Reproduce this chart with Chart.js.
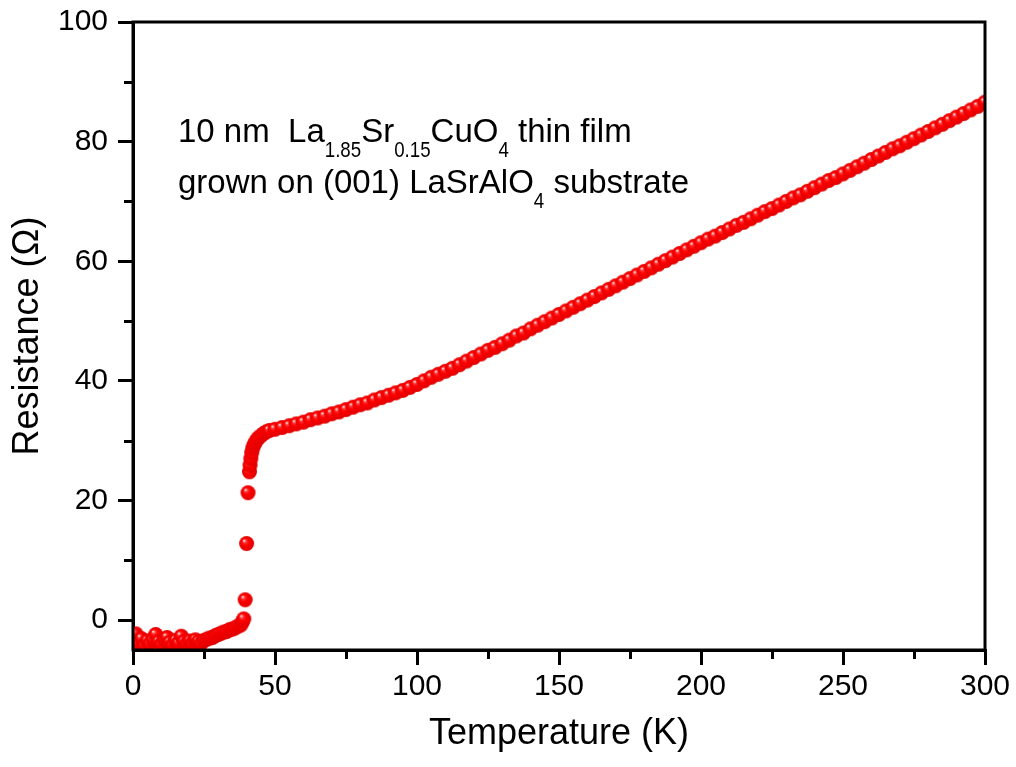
<!DOCTYPE html>
<html>
<head>
<meta charset="utf-8">
<script src="https://cdn.jsdelivr.net/npm/chart.js@4.4.0/dist/chart.umd.min.js"></script>
<style>
  html, body { margin: 0; padding: 0; background: #fff; }
  #wrap { width: 1016px; height: 767px; }
</style>
</head>
<body>
<div id="wrap"><canvas id="chart" width="1016" height="767"></canvas></div>
<script>
// temperature (K) and resistance (Ohm)
var temperature = [
  1, 2, 3, 4, 5, 6, 7, 8, 9, 10, 11, 12, 13, 14, 15, 16, 17, 18, 19, 20,
  21, 22, 23, 24, 25, 26, 27, 28, 29, 30, 31, 32, 33, 34, 35, 36, 37, 38, 38.5, 39,
  39.5, 40, 40.5, 41, 41.2, 41.5, 41.8, 42.2, 42.7, 43.3, 44, 45, 46, 47, 48,
  50, 52.5, 55, 57.5, 60, 62.5, 65, 67.5, 70, 72.5, 75, 77.5, 80, 82.5, 85, 87.5, 90, 92.5, 95, 97.5,
  100, 102.5, 105, 107.5, 110, 112.5, 115, 117.5, 120, 122.5, 125, 127.5, 130, 132.5, 135, 137.5,
  140, 142.5, 145, 147.5, 150, 152.5, 155, 157.5, 160, 162.5, 165, 167.5, 170, 172.5, 175, 177.5,
  180, 182.5, 185, 187.5, 190, 192.5, 195, 197.5, 200, 202.5, 205, 207.5, 210, 212.5, 215, 217.5,
  220, 222.5, 225, 227.5, 230, 232.5, 235, 237.5, 240, 242.5, 245, 247.5, 250, 252.5, 255, 257.5,
  260, 262.5, 265, 267.5, 270, 272.5, 275, 277.5, 280, 282.5, 285, 287.5, 290, 292.5, 295, 297.5, 300
];
var resistance = [
  -2.3, -3.8, -3.1, -4.2, -3.5, -3.9, -3.2, -2.4, -3.6, -4.0, -3.3, -2.9, -3.7, -4.1, -3.4, -3.8, -2.7, -3.6, -3.9, -3.5,
  -3.8, -3.3, -3.6, -3.9, -3.4, -3.2, -3.0, -2.9, -2.6, -2.4, -2.2, -2.0, -1.9, -1.6, -1.5, -1.3, -1.0, -0.8, -0.3, 0.2,
  3.4, 12.8, 21.3, 24.8, 25.9, 27.0, 28.0, 28.8, 29.4, 29.9, 30.4, 30.8, 31.2, 31.5, 31.7,
  31.9, 32.2, 32.5, 32.8, 33.1, 33.5, 33.8, 34.1, 34.5, 34.8, 35.2, 35.6, 36.0, 36.3, 36.8, 37.2, 37.6, 38.0, 38.4, 38.9,
  39.4, 40.0, 40.6, 41.1, 41.6, 42.1, 42.7, 43.3, 43.9, 44.5, 45.1, 45.6, 46.2, 46.8, 47.5, 48.0,
  48.7, 49.3, 49.9, 50.5, 51.1, 51.7, 52.3, 52.9, 53.5, 54.1, 54.7, 55.3, 55.9, 56.5, 57.1, 57.7,
  58.3, 58.9, 59.5, 60.1, 60.7, 61.3, 61.9, 62.5, 63.1, 63.7, 64.2, 64.8, 65.4, 66.0, 66.5, 67.1,
  67.7, 68.3, 68.8, 69.4, 70.0, 70.6, 71.1, 71.7, 72.3, 72.9, 73.5, 74.0, 74.6, 75.2, 75.8, 76.4,
  77.0, 77.6, 78.2, 78.8, 79.3, 79.9, 80.5, 81.1, 81.7, 82.3, 82.9, 83.5, 84.1, 84.7, 85.3, 85.9, 86.6
];
var xMajor = [0, 50, 100, 150, 200, 250, 300];
var xMinor = [25, 75, 125, 175, 225, 275];
var yMajor = [0, 20, 40, 60, 80, 100];
var yMinor = [10, 30, 50, 70, 90];
// annotation: [text, isSubscript]
var note1 = [['10 nm  La', 0], ['1.85', 1], ['Sr', 0], ['0.15', 1], ['CuO', 0], ['4', 1], [' thin film', 0]];
var note2 = [['grown on (001) LaSrAlO', 0], ['4', 1], [' substrate', 0]];

var FONT = '"Liberation Sans", Arial, sans-serif';

// shaded red ball used as the marker
function makeBall(r) {
  var c = document.createElement('canvas');
  c.width = c.height = r * 2 + 2;
  var g = c.getContext('2d');
  var cx = r + 1, cy = r + 1;
  var grad = g.createRadialGradient(cx - r * 0.35, cy - r * 0.4, 0.5, cx, cy, r);
  grad.addColorStop(0, '#ffd6d6');
  grad.addColorStop(0.18, '#ff3a3a');
  grad.addColorStop(0.45, '#ff0000');
  grad.addColorStop(1, '#e00000');
  g.fillStyle = grad;
  g.beginPath();
  g.arc(cx, cy, r, 0, Math.PI * 2);
  g.fill();
  return c;
}
var ball = makeBall(7.5);

var points = temperature.map(function (t, i) { return { x: t, y: resistance[i] }; });

function drawNote(ctx, parts, x, y) {
  parts.forEach(function (p) {
    if (p[1]) {
      ctx.font = '22px ' + FONT;
      var w = ctx.measureText(p[0]).width * 0.85;
      ctx.save();
      ctx.translate(x, y + 15);
      ctx.scale(0.85, 1);
      ctx.fillText(p[0], 0, 0);
      ctx.restore();
      x += w;
    } else {
      ctx.font = '33px ' + FONT;
      ctx.fillText(p[0], x, y);
      x += ctx.measureText(p[0]).width;
    }
  });
}

var framePlugin = {
  id: 'frame',
  afterDraw: function (chart) {
    var ctx = chart.ctx, a = chart.chartArea;
    var xs = chart.scales.x, ys = chart.scales.y;
    ctx.save();
    ctx.strokeStyle = '#000';
    ctx.lineWidth = 3;
    ctx.strokeRect(a.left, a.top, a.right - a.left, a.bottom - a.top);
    ctx.beginPath();
    xMinor.forEach(function (v) {
      var px = Math.round(xs.getPixelForValue(v)) + 0.5;
      ctx.moveTo(px, a.bottom);
      ctx.lineTo(px, a.bottom + 9);
    });
    yMinor.forEach(function (v) {
      var py = Math.round(ys.getPixelForValue(v)) + 0.5;
      ctx.moveTo(a.left, py);
      ctx.lineTo(a.left - 9, py);
    });
    ctx.stroke();
    ctx.fillStyle = '#000';
    ctx.textBaseline = 'alphabetic';
    ctx.textAlign = 'left';
    drawNote(ctx, note1, 178, 142);
    drawNote(ctx, note2, 178, 193);
    ctx.restore();
  }
};

var ctx = document.getElementById('chart').getContext('2d');
var rtChart = new Chart(ctx, {
  type: 'scatter',
  data: {
    datasets: [{
      label: 'R(T)',
      data: points,
      pointStyle: ball,
      pointRadius: 7.5,
      pointHoverRadius: 7.5,
      clip: 0
    }]
  },
  options: {
    responsive: false,
    animation: false,
    events: [],
    layout: { padding: { top: 22, right: 31, left: 0, bottom: 0 } },
    plugins: { legend: { display: false }, tooltip: { enabled: false } },
    scales: {
      x: {
        type: 'linear',
        min: 0,
        max: 300,
        afterBuildTicks: function (s) { s.ticks = xMajor.map(function (v) { return { value: v }; }); },
        afterFit: function (s) { s.height = 117; s.paddingLeft = 0; s.paddingRight = 0; },
        border: { display: true, color: '#000', width: 3 },
        grid: { drawOnChartArea: false, drawTicks: true, tickLength: 15, lineWidth: 3, color: '#000' },
        ticks: { color: '#000', padding: 4, maxRotation: 0, font: { family: FONT, size: 30 } },
        title: { display: true, text: 'Temperature (K)', color: '#000', padding: { top: 0, bottom: 11 }, font: { family: FONT, size: 36 } }
      },
      y: {
        type: 'linear',
        min: -5,
        max: 100,
        afterBuildTicks: function (s) { s.ticks = yMajor.map(function (v) { return { value: v }; }); },
        afterFit: function (s) { s.width = 133; s.paddingTop = 0; s.paddingBottom = 0; },
        border: { display: true, color: '#000', width: 3 },
        grid: { drawOnChartArea: false, drawTicks: true, tickLength: 15, lineWidth: 3, color: '#000' },
        ticks: { color: '#000', padding: 10, font: { family: FONT, size: 30 } },
        title: { display: true, text: 'Resistance (\u03A9)', color: '#000', padding: { top: 6, bottom: 0 }, font: { family: FONT, size: 36 } }
      }
    }
  },
  plugins: [framePlugin]
});
</script>
</body>
</html>
